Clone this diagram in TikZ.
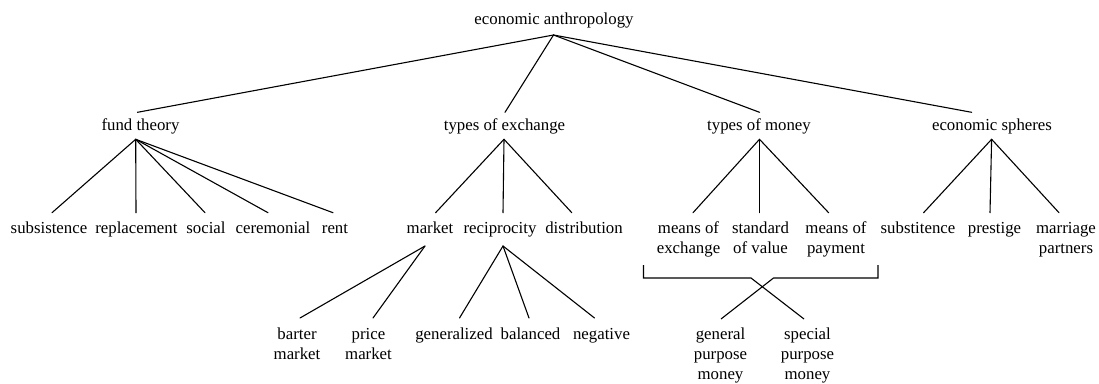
\documentclass[tikz,border=0pt]{standalone}
\usepackage{fontspec}
\setmainfont{Liberation Serif}
% multi-line label whose baseline is that of its first line
\newcommand{\stacked}[1]{\begin{tabular}[t]{@{}c@{}}#1\end{tabular}}
\begin{document}
\begin{tikzpicture}[x=1pt,y=-1pt,
  lbl/.style={inner sep=0pt,anchor=base,
    font=\fontsize{16.8}{20}\selectfont},
  link/.style={line width=1.1pt,line cap=round,line join=miter}]
\useasboundingbox[fill=white] (0,0) rectangle (1099,383);

% ---- text nodes (placed by their first baseline) ----
\node[lbl] (root) at (554,24.5) {economic anthropology};

\node[lbl] (ft) at (140.5,130.5) {fund theory};
\node[lbl] (te) at (504.5,130.5) {types of exchange};
\node[lbl] (tm) at (759,130.5) {types of money};
\node[lbl] (es) at (992,130.5) {economic spheres};

\node[lbl] (sub)  at (49,233)    {subsistence};
\node[lbl] (rep)  at (136.4,233) {replacement};
\node[lbl] (soc)  at (206,233)   {social};
\node[lbl] (cer)  at (273,233)   {ceremonial};
\node[lbl] (rent) at (335,233)   {rent};
\node[lbl] (mkt)  at (430,233)   {market};
\node[lbl] (rec)  at (500,233)   {reciprocity};
\node[lbl] (dist) at (584,233)   {distribution};
\node[lbl] (moe)  at (688.5,233) {\stacked{means of\\exchange}};
\node[lbl] (sov)  at (760.5,233) {\stacked{standard\\of value}};
\node[lbl] (mop)  at (836,233)   {\stacked{means of\\payment}};
\node[lbl] (sst)  at (918,233)   {substitence};
\node[lbl] (pre)  at (994.5,233) {prestige};
\node[lbl] (mar)  at (1066,233)  {\stacked{marriage\\partners}};

\node[lbl] (bm)  at (297,339.5)   {\stacked{barter\\market}};
\node[lbl] (pm)  at (368.5,339.5) {\stacked{price\\market}};
\node[lbl] (gen) at (454,339.5)   {generalized};
\node[lbl] (bal) at (530.5,339.5) {balanced};
\node[lbl] (neg) at (601.5,339.5) {negative};
\node[lbl] (gpm) at (720.5,339.5) {\stacked{general\\purpose\\money}};
\node[lbl] (spm) at (807.5,339.5) {\stacked{special\\purpose\\money}};

% ---- attachment points above and below the labels ----
\coordinate (root-dn) at ([xshift=-0.5pt,yshift=-10.5pt]root.base);

\coordinate (ft-up) at ([xshift=-3pt,yshift=18.2pt]ft.base);
\coordinate (ft-dn) at ([xshift=-4.8pt,yshift=-8.8pt]ft.base);
\coordinate (te-up) at ([xshift=0.5pt,yshift=18.2pt]te.base);
\coordinate (te-dn) at ([xshift=-0.5pt,yshift=-8.8pt]te.base);
\coordinate (tm-up) at ([xshift=0.5pt,yshift=18.2pt]tm.base);
\coordinate (tm-dn) at ([xshift=0.5pt,yshift=-8.8pt]tm.base);
\coordinate (es-up) at ([xshift=-20.4pt,yshift=18.2pt]es.base);
\coordinate (es-dn) at ([xshift=-0.4pt,yshift=-8.8pt]es.base);

\coordinate (sub-up)  at ([xshift=3pt,yshift=20.3pt]sub.base);
\coordinate (rep-up)  at ([xshift=-0.4pt,yshift=20.3pt]rep.base);
\coordinate (soc-up)  at ([xshift=-1pt,yshift=20.3pt]soc.base);
\coordinate (cer-up)  at ([xshift=-5pt,yshift=20.3pt]cer.base);
\coordinate (rent-up) at ([xshift=-2pt,yshift=20.3pt]rent.base);
\coordinate (mkt-up)  at ([xshift=5.6pt,yshift=20.3pt]mkt.base);
\coordinate (rec-up)  at ([xshift=3pt,yshift=20.3pt]rec.base);
\coordinate (dist-up) at ([xshift=-12.2pt,yshift=20.3pt]dist.base);
\coordinate (moe-up)  at ([xshift=4.5pt,yshift=20.3pt]moe.base);
\coordinate (sov-up)  at ([xshift=-1pt,yshift=20.3pt]sov.base);
\coordinate (mop-up)  at ([xshift=-7.4pt,yshift=20.3pt]mop.base);
\coordinate (sst-up)  at ([xshift=5.6pt,yshift=20.3pt]sst.base);
\coordinate (pre-up)  at ([xshift=-4.5pt,yshift=20.3pt]pre.base);
\coordinate (mar-up)  at ([xshift=-7pt,yshift=20.3pt]mar.base);
\coordinate (mkt-dn)  at ([xshift=-5pt,yshift=-13pt]mkt.base);
\coordinate (rec-dn)  at ([xshift=3pt,yshift=-13pt]rec.base);

\coordinate (bm-up)  at ([xshift=3pt,yshift=21.5pt]bm.base);
\coordinate (pm-up)  at ([xshift=4.5pt,yshift=21.5pt]pm.base);
\coordinate (gen-up) at ([xshift=5.5pt,yshift=21.5pt]gen.base);
\coordinate (bal-up) at ([xshift=-1.5pt,yshift=21.5pt]bal.base);
\coordinate (neg-up) at ([xshift=-7pt,yshift=21.5pt]neg.base);
\coordinate (gpm-up) at ([xshift=0.5pt,yshift=20.5pt]gpm.base);
\coordinate (spm-up) at ([xshift=-3.5pt,yshift=20.5pt]spm.base);

% bracket under the three functions of money
\coordinate (brL-top) at (643.5,265);
\coordinate (brL)     at (643.5,278);
\coordinate (brL-in)  at (751,278);
\coordinate (brR-top) at (878,265);
\coordinate (brR)     at (878,278);
\coordinate (brR-in)  at (773.5,278);

% ---- connectors ----
\foreach \c in {ft,te,tm,es}
  \draw[link] (root-dn) -- (\c-up);
\foreach \c in {sub,rep,soc,cer,rent}
  \draw[link] (ft-dn) -- (\c-up);
\foreach \c in {mkt,rec,dist}
  \draw[link] (te-dn) -- (\c-up);
\foreach \c in {moe,sov,mop}
  \draw[link] (tm-dn) -- (\c-up);
\foreach \c in {sst,pre,mar}
  \draw[link] (es-dn) -- (\c-up);
\foreach \c in {bm,pm}
  \draw[link] (mkt-dn) -- (\c-up);
\foreach \c in {gen,bal,neg}
  \draw[link] (rec-dn) -- (\c-up);

\draw[link,line cap=butt] (brL-top) -- (brL) -- (brL-in) -- (spm-up);
\draw[link,line cap=butt] (brR-top) -- (brR) -- (brR-in) -- (gpm-up);
\end{tikzpicture}
\end{document}
